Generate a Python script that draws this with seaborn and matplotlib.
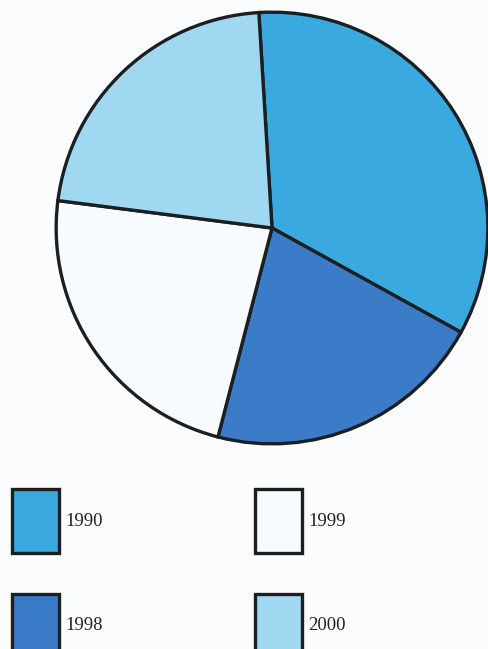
import matplotlib
matplotlib.use("Agg")
import matplotlib.pyplot as plt
from matplotlib.patches import Patch
import seaborn as sns

# slice shares (percent), clockwise from the top
years = ["1990", "1998", "1999", "2000"]
shares = [34, 21, 23, 22]
colors = ["#3aa9e0", "#3a7cc8", "#f8fbfe", "#a0d7f1"]

sns.set_theme(style="white")
plt.rcParams["font.family"] = ["Liberation Serif", "DejaVu Serif"]

fig = plt.figure(figsize=(4.88, 6.49), dpi=100)
fig.patch.set_facecolor("#fafcfe")

# square axes holding the pie, centred near (272, 228) px
ax = fig.add_axes([(272 - 218) / 488, 1 - (228 + 218) / 649, 436 / 488, 436 / 649])
ax.set_facecolor("#fafcfe")
ax.pie(shares, colors=colors, startangle=93.5, counterclock=False,
       wedgeprops=dict(edgecolor="#1b1f22", linewidth=2.4))
ax.set_xlim(-1.01, 1.01)
ax.set_ylim(-1.01, 1.01)
ax.set_aspect("equal")
ax.axis("off")

handles = [Patch(facecolor=c, edgecolor="#1b1f22", linewidth=2.4) for c in colors]
fig.legend(handles, years, loc="upper left",
           bbox_to_anchor=(12 / 488, 1 - 489 / 649), ncol=2, frameon=False,
           fontsize=13.5, handlelength=2.5, handleheight=4.9,
           handletextpad=0.35, labelspacing=2.15, columnspacing=8.1,
           borderpad=0, borderaxespad=0, labelcolor="#222222")

plt.savefig("out.png", dpi=100, facecolor=fig.get_facecolor())
